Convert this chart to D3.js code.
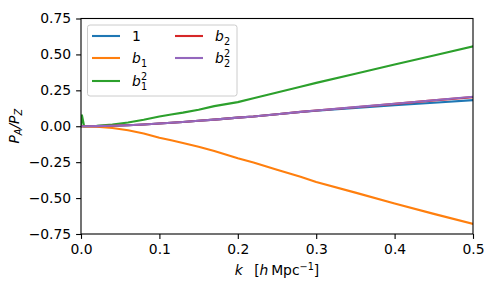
<!DOCTYPE html><meta charset="utf-8">
<style>
*{margin:0}
body{background:#fff}
svg{font-family:"DejaVu Sans",sans-serif;font-size:13.9px}
.tick text{font-family:"DejaVu Sans",sans-serif;font-size:13.9px;fill:#000}
.tick line{stroke:#000;stroke-width:1.1px}
</style>
<svg width="500" height="300"></svg>
<script src="https://d3js.org/d3.v7.min.js"></script>
<script>
// k grid and ratios
const kVals   = [0,0.0012,0.004,0.02,0.04,0.06,0.08,0.1,0.115,0.13,0.15,0.17,0.2,0.22,0.25,0.28,0.3,0.35,0.4,0.45,0.5];
const one     = [0,0,0,0.001,0.004,0.007,0.012,0.019,0.024,0.03,0.038,0.046,0.06,0.068,0.084,0.099,0.108,0.127,0.146,0.164,0.182];
const b1      = [0,0,-0.001,-0.003,-0.012,-0.028,-0.05,-0.08,-0.098,-0.117,-0.142,-0.172,-0.222,-0.252,-0.303,-0.352,-0.388,-0.462,-0.537,-0.61,-0.68];
const b1sq    = [0,0.077,0,0.003,0.012,0.026,0.045,0.068,0.082,0.095,0.115,0.14,0.168,0.195,0.235,0.275,0.302,0.366,0.43,0.493,0.556];
const b2      = [0,0,0,0.001,0.004,0.007,0.012,0.019,0.024,0.03,0.038,0.046,0.06,0.068,0.084,0.1,0.11,0.132,0.156,0.18,0.203];
const b2sq    = [0,0,0,0.001,0.004,0.007,0.012,0.019,0.024,0.03,0.038,0.046,0.06,0.068,0.084,0.1,0.11,0.133,0.157,0.181,0.205];
const xTicks  = [0,0.1,0.2,0.3,0.4,0.5];
const yTicks  = [-0.75,-0.5,-0.25,0,0.25,0.5,0.75];

const series = [
  {name:"1",   vals:one,  color:"#1f77b4"},
  {name:"b1",  vals:b1,   color:"#ff7f0e"},
  {name:"b1sq",vals:b1sq, color:"#2ca02c"},
  {name:"b2",  vals:b2,   color:"#d62728"},
  {name:"b2sq",vals:b2sq, color:"#9467bd"}
];

const svg = d3.select("svg"),
      L=81, R=473, T=18.5, B=234,
      x = d3.scaleLinear().domain([0,0.5]).range([L,R]),
      y = d3.scaleLinear().domain([-0.75,0.75]).range([B,T]),
      minus = s => s.replace("-","\u2212");

svg.append("defs").append("clipPath").attr("id","clip")
   .append("rect").attr("x",L).attr("y",T).attr("width",R-L).attr("height",B-T);

const line = d3.line().x((d,i)=>x(kVals[i])).y(d=>y(d));
svg.append("g").attr("clip-path","url(#clip)")
   .selectAll("path").data(series).join("path")
   .attr("fill","none").attr("stroke",d=>d.color).attr("stroke-width",2.1)
   .attr("stroke-linejoin","round").attr("stroke-linecap","square")
   .attr("d",d=>line(d.vals));

// axes
const gx = svg.append("g").attr("transform",`translate(0,${B})`)
   .call(d3.axisBottom(x).tickValues(xTicks).tickFormat(d3.format(".1f")).tickSizeInner(4.9).tickSizeOuter(0).tickPadding(4.9));
const gy = svg.append("g").attr("transform",`translate(${L},0)`)
   .call(d3.axisLeft(y).tickValues(yTicks).tickFormat(d=>minus(d3.format(".2f")(d))).tickSizeInner(4.9).tickSizeOuter(0).tickPadding(4.9));
gx.select(".domain").remove(); gy.select(".domain").remove();
gx.attr("font-size",null).attr("font-family",null);
gy.attr("font-size",null).attr("font-family",null);

svg.append("rect").attr("x",L).attr("y",T).attr("width",R-L).attr("height",B-T)
   .attr("fill","none").attr("stroke","#000").attr("stroke-width",1.1);

// axis labels
const xl = svg.append("text").attr("x",(L+R)/2).attr("y",275).attr("text-anchor","middle");
xl.append("tspan").attr("font-style","italic").text("k");
xl.append("tspan").text("\u2002 [");
xl.append("tspan").attr("font-style","italic").text("h");
xl.append("tspan").text("\u2009Mpc");
xl.append("tspan").attr("font-size","9.7px").attr("dy",-5).text("\u22121");
xl.append("tspan").attr("dy",5).text("]");

const yl = svg.append("text").attr("transform",`translate(19,${(T+B)/2}) rotate(-90)`)
   .attr("text-anchor","middle").attr("font-style","italic");
yl.append("tspan").text("P");
yl.append("tspan").attr("font-size","9.7px").attr("dy",3).text("A");
yl.append("tspan").attr("dy",-3).text("/P");
yl.append("tspan").attr("font-size","9.7px").attr("dy",3).text("Z");

// legend
const lg = svg.append("g");
lg.append("rect").attr("x",87.5).attr("y",25).attr("width",149.5).attr("height",71).attr("rx",2.5)
  .attr("fill","#fff").attr("fill-opacity",0.8).attr("stroke","#ccc").attr("stroke-width",1);
const pos = [[92,36],[92,58],[92,81],[175,36],[175,58]];
series.forEach((s,i)=>{
  const [px,py]=pos[i];
  lg.append("line").attr("x1",px).attr("x2",px+28).attr("y1",py).attr("y2",py)
    .attr("stroke",s.color).attr("stroke-width",2.1);
  const tx = px+40, ty = py+5;
  if(s.name==="1"){
    lg.append("text").attr("x",tx).attr("y",ty).text("1");
    return;
  }
  lg.append("text").attr("x",tx).attr("y",ty).attr("font-style","italic").text("b");
  lg.append("text").attr("x",tx+9).attr("y",ty+3.5).attr("font-size","9.7px").text(s.name[1]);
  if(s.name.endsWith("sq"))
    lg.append("text").attr("x",tx+9).attr("y",ty-6).attr("font-size","9.7px").text("2");
});
</script>
